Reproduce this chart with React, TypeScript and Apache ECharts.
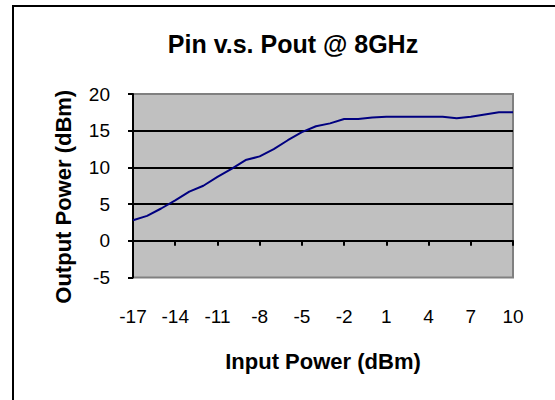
import React, { useEffect, useRef } from "react";
import * as echarts from "echarts";

const inputPower: string[] = [
  "-17", "-16", "-15", "-14", "-13", "-12", "-11", "-10", "-9", "-8",
  "-7", "-6", "-5", "-4", "-3", "-2", "-1", "0", "1", "2",
  "3", "4", "5", "6", "7", "8", "9", "10",
];
const outputPower: number[] = [
  2.8, 3.4, 4.4, 5.5, 6.7, 7.5, 8.7, 9.8, 11.0, 11.5,
  12.5, 13.7, 14.8, 15.6, 16.0, 16.6, 16.6, 16.8, 16.9, 16.9,
  16.9, 16.9, 16.9, 16.7, 16.9, 17.2, 17.5, 17.5,
];
const yMin = -5;
const yMax = 20;
const yStep = 5;

const FONT = "'Liberation Sans', Arial, sans-serif";

export default function App() {
  const ref = useRef<HTMLDivElement>(null);
  useEffect(() => {
    if (!ref.current) return;
    const chart = echarts.init(ref.current, undefined, { renderer: "svg" });
    chart.setOption({
      animation: false,
      backgroundColor: "#ffffff",
      title: {
        text: "Pin v.s. Pout @ 8GHz",
        left: 293,
        top: 31,
        textAlign: "center",
        padding: 0,
        textStyle: { fontFamily: FONT, fontSize: 25, fontWeight: "bold", color: "#000" },
      },
      graphic: [
        {
          type: "rect",
          shape: { x: 13, y: 6, width: 700, height: 600 },
          style: { fill: "none", stroke: "#000", lineWidth: 2 },
          silent: true,
        },
      ],
      grid: {
        left: 133,
        top: 94,
        right: 42,
        bottom: 122.5,
        show: true,
        backgroundColor: "#c0c0c0",
        borderColor: "#808080",
        borderWidth: 2,
        containLabel: false,
      },
      xAxis: {
        type: "category",
        data: inputPower,
        boundaryGap: false,
        name: "Input Power (dBm)",
        nameLocation: "middle",
        nameGap: 73,
        nameTextStyle: { fontFamily: FONT, fontSize: 22, fontWeight: "bold", color: "#000" },
        axisLine: { show: true, lineStyle: { color: "#000", width: 2 } },
        axisTick: { show: true, interval: 2, length: 5, lineStyle: { color: "#000", width: 2 } },
        axisLabel: { interval: 2, margin: 29, fontFamily: FONT, fontSize: 19, color: "#000" },
        splitLine: { show: false },
      },
      yAxis: {
        type: "value",
        min: yMin,
        max: yMax,
        interval: yStep,
        name: "Output Power (dBm)",
        nameLocation: "middle",
        nameGap: 59,
        nameTextStyle: {
          fontFamily: FONT,
          fontSize: 22,
          fontWeight: "bold",
          color: "#000",
          padding: [0, 22, 0, 0],
        },
        axisLine: { show: true, onZero: false, lineStyle: { color: "#000", width: 2 } },
        axisTick: { show: true, length: 5, lineStyle: { color: "#000", width: 2 } },
        axisLabel: { margin: 23, fontFamily: FONT, fontSize: 19, color: "#000" },
        splitLine: {
          show: true,
          showMinLine: false,
          showMaxLine: false,
          lineStyle: { color: "#000", width: 2 },
        },
      },
      series: [
        {
          type: "line",
          data: outputPower,
          symbol: "none",
          lineStyle: { color: "#000080", width: 2 },
        },
      ],
    });
    return () => chart.dispose();
  }, []);
  return (
    <div
      ref={ref}
      style={{ position: "absolute", left: 0, top: 0, width: 555, height: 400 }}
    />
  );
}
